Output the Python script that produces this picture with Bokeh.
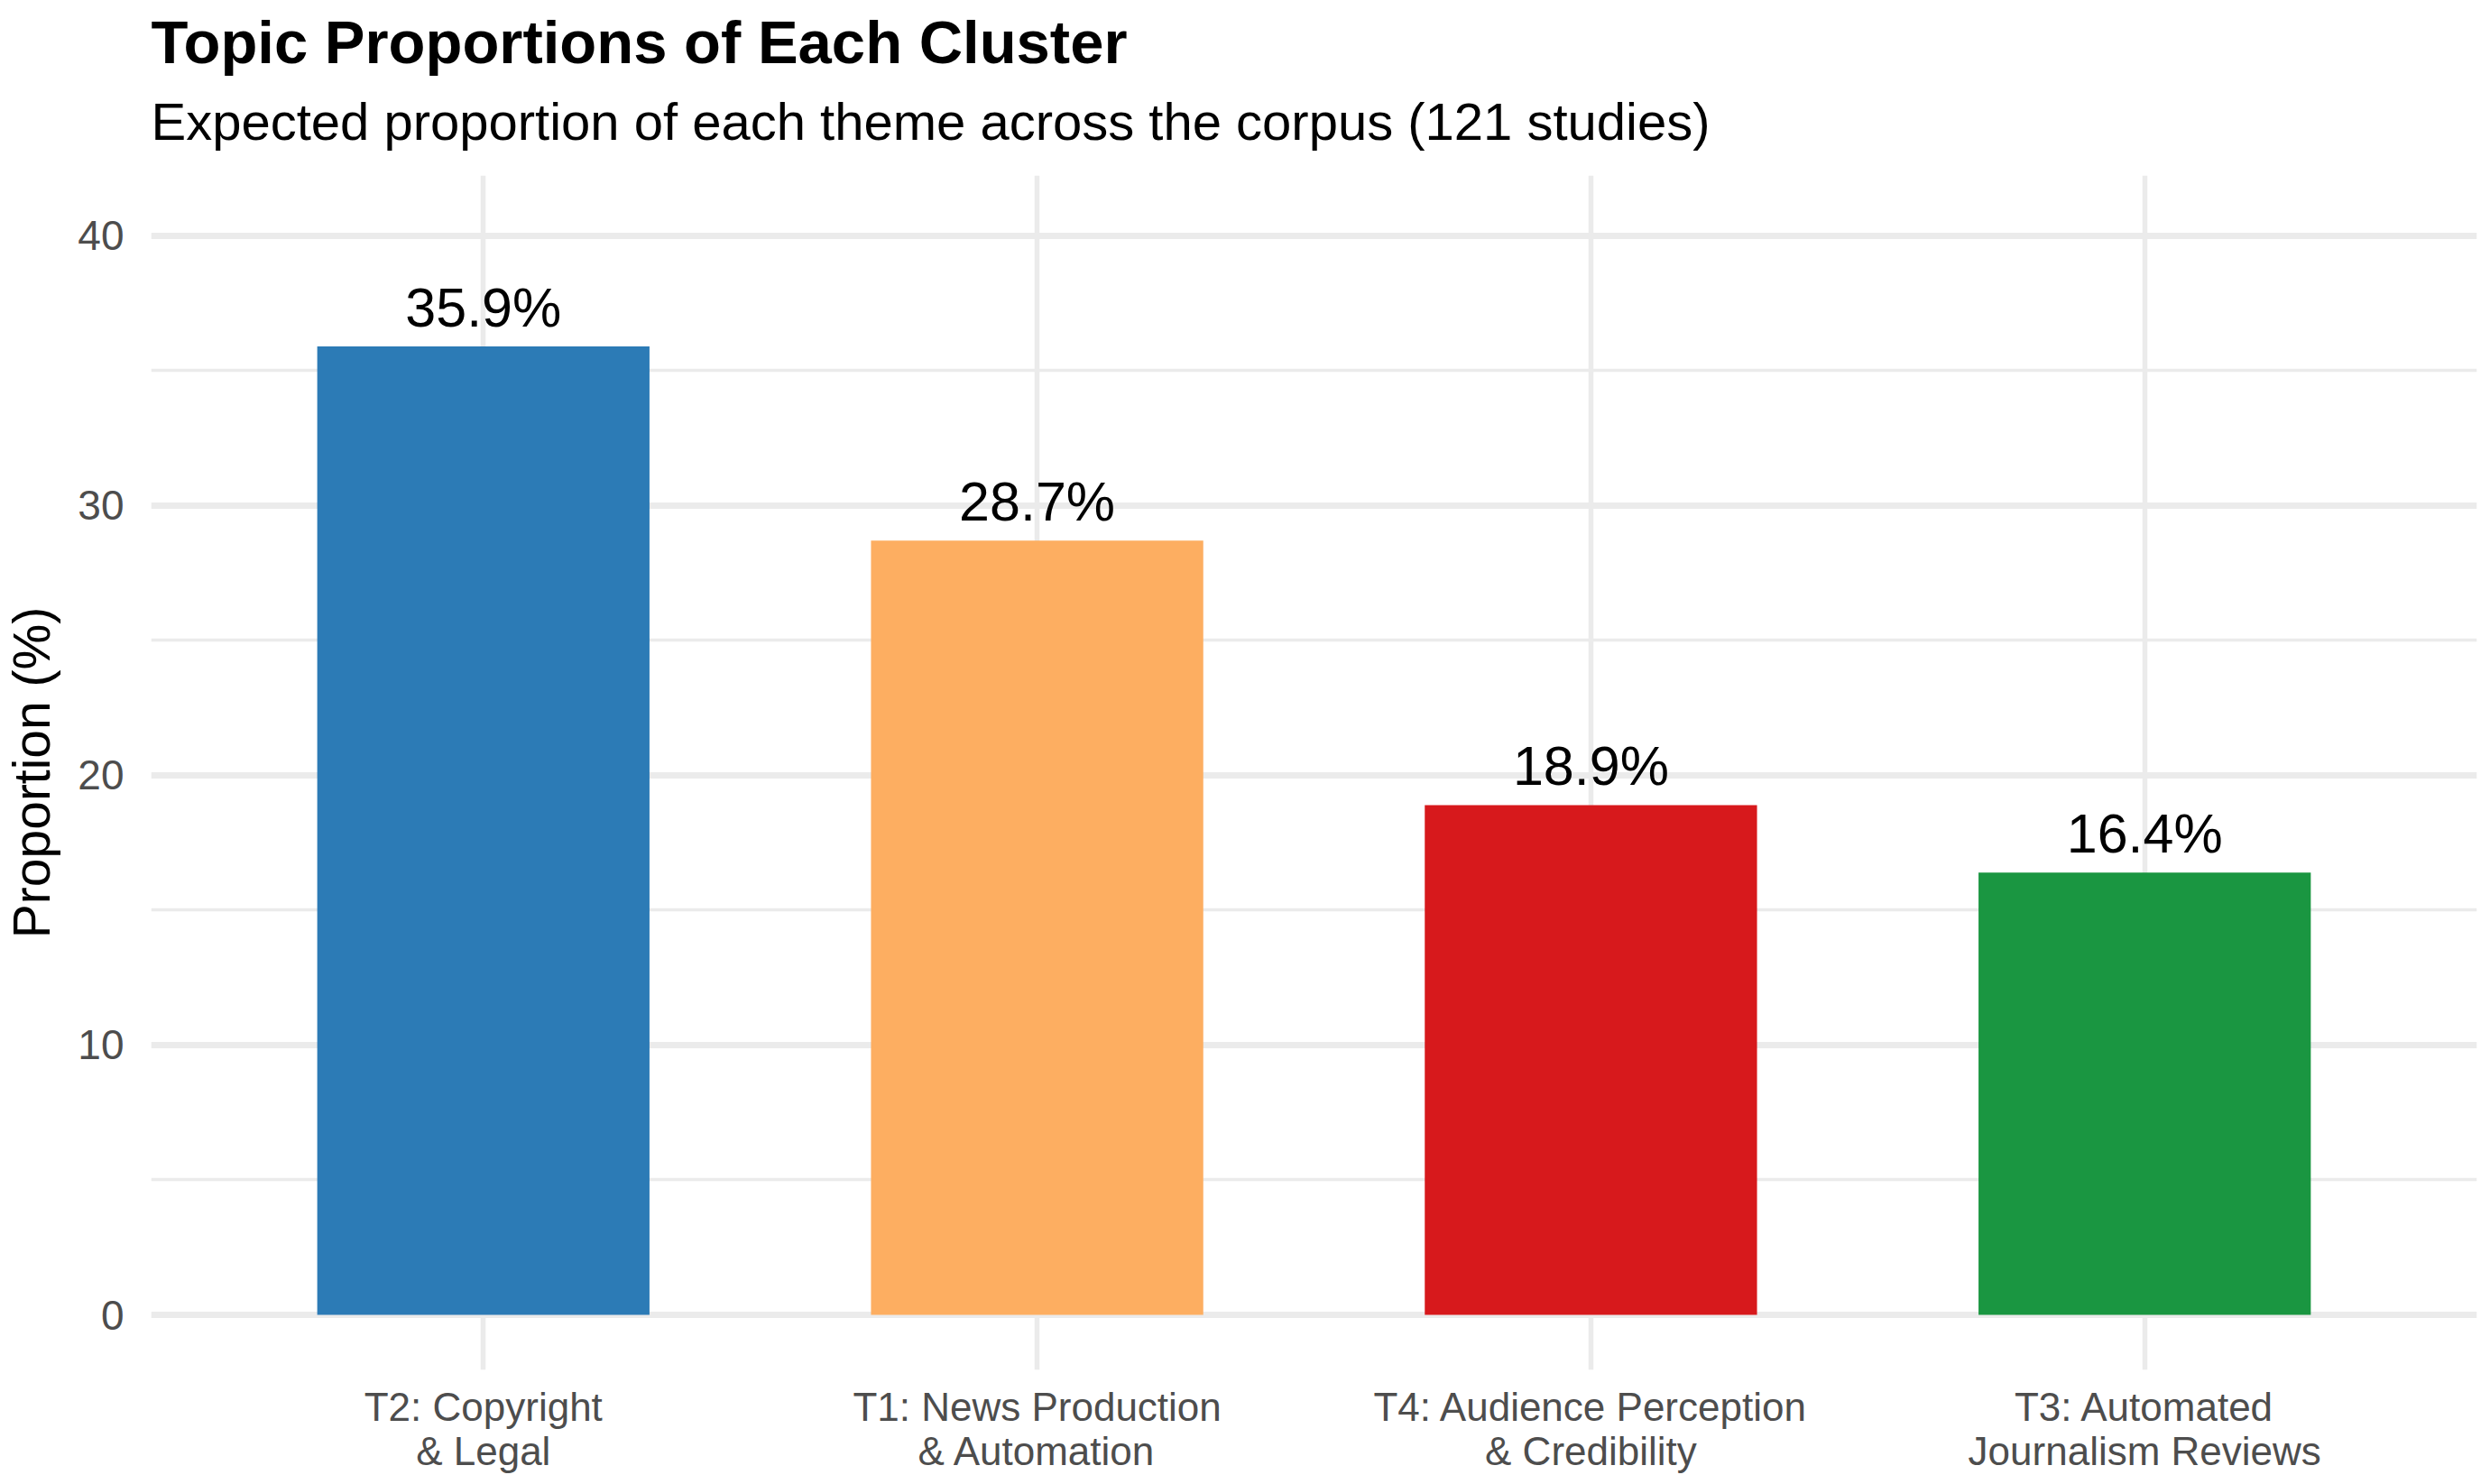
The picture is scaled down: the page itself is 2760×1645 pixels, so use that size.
from bokeh.plotting import figure
from bokeh.models import ColumnDataSource, Range1d, FactorRange, FixedTicker, Title
from bokeh.embed import file_html
from bokeh.resources import INLINE
from bokeh.core.properties import value

# ---- data ----
categories = ["T2: Copyright\n& Legal",
              "T1: News Production\n& Automation",
              "T4: Audience Perception\n& Credibility",
              "T3: Automated\nJournalism Reviews"]
proportions = [35.9, 28.7, 18.9, 16.4]
bar_labels = ["35.9%", "28.7%", "18.9%", "16.4%"]
colors = ["#2C7BB6", "#FDAE61", "#D7191C", "#1A9641"]
y_ticks = [0, 10, 20, 30, 40]
y_minor = [5, 15, 25, 35]

title_text = "Topic Proportions of Each Cluster"
subtitle_text = "Expected proportion of each theme across the corpus (121 studies)"
y_label = "Proportion (%)"

FONT = "Liberation Sans"

src = ColumnDataSource(dict(cat=categories, val=proportions, lab=bar_labels, col=colors))

p = figure(
    title=None,
    width=2744, height=1620,
    x_range=FactorRange(factors=categories, range_padding=0.1, range_padding_units="absolute"),
    y_range=Range1d(-2.04, 42.24),
    output_backend="svg", toolbar_location=None,
    min_border_left=159, min_border_right=7, min_border_top=194, min_border_bottom=102,
    frame_width=2578, frame_height=1324,
)
p.outline_line_color = None
p.background_fill_color = "white"
p.border_fill_color = "white"

p.vbar(x="cat", top="val", width=0.6, bottom=0, source=src,
       fill_color="col", line_color=None)

p.text(x="cat", y="val", text="lab", source=src,
       text_align="center", text_baseline="bottom", y_offset=-9,
       text_font=value(FONT), text_font_size="61px", text_color="black")

# axes
p.yaxis.ticker = FixedTicker(ticks=y_ticks, minor_ticks=y_minor)
p.yaxis.axis_line_color = None
p.yaxis.major_tick_line_color = None
p.yaxis.minor_tick_line_color = None
p.yaxis.major_tick_out = 0
p.yaxis.major_tick_in = 0
p.yaxis.major_label_standoff = 26
p.yaxis.major_label_text_font = FONT
p.yaxis.major_label_text_font_size = "46px"
p.yaxis.major_label_text_color = "#4D4D4D"
p.yaxis.axis_label = y_label
p.yaxis.axis_label_text_font = FONT
p.yaxis.axis_label_text_font_size = "57px"
p.yaxis.axis_label_text_font_style = "normal"
p.yaxis.axis_label_text_color = "black"
p.yaxis.axis_label_standoff = 16

p.xaxis.axis_line_color = None
p.xaxis.major_tick_line_color = None
p.xaxis.minor_tick_line_color = None
p.xaxis.major_tick_out = 0
p.xaxis.major_tick_in = 0
p.xaxis.major_label_standoff = 16
p.xaxis.major_label_text_font = FONT
p.xaxis.major_label_text_font_size = "44px"
p.xaxis.major_label_text_line_height = 1.0
p.xaxis.major_label_text_color = "#4D4D4D"
p.xaxis.major_label_text_align = "center"

# grids
p.ygrid.grid_line_color = "#EBEBEB"
p.ygrid.grid_line_width = 7
p.ygrid.minor_grid_line_color = "#EBEBEB"
p.ygrid.minor_grid_line_width = 3.5
p.xgrid.grid_line_color = "#EBEBEB"
p.xgrid.grid_line_width = 5.5

# titles (added nearest-first): a tiny spacer, the subtitle, then the title
p.add_layout(Title(text=" ", text_font_size="1px", standoff=9), "above")
p.add_layout(Title(text=subtitle_text, align="left", offset=0, standoff=32,
                   text_font=FONT, text_font_size="58px", text_font_style="normal",
                   text_color="black"), "above")
p.add_layout(Title(text=title_text, align="left", offset=0, standoff=0,
                   text_font=FONT, text_font_size="67px", text_font_style="bold",
                   text_color="black"), "above")

open("out.html", "w").write(file_html(p, INLINE))
